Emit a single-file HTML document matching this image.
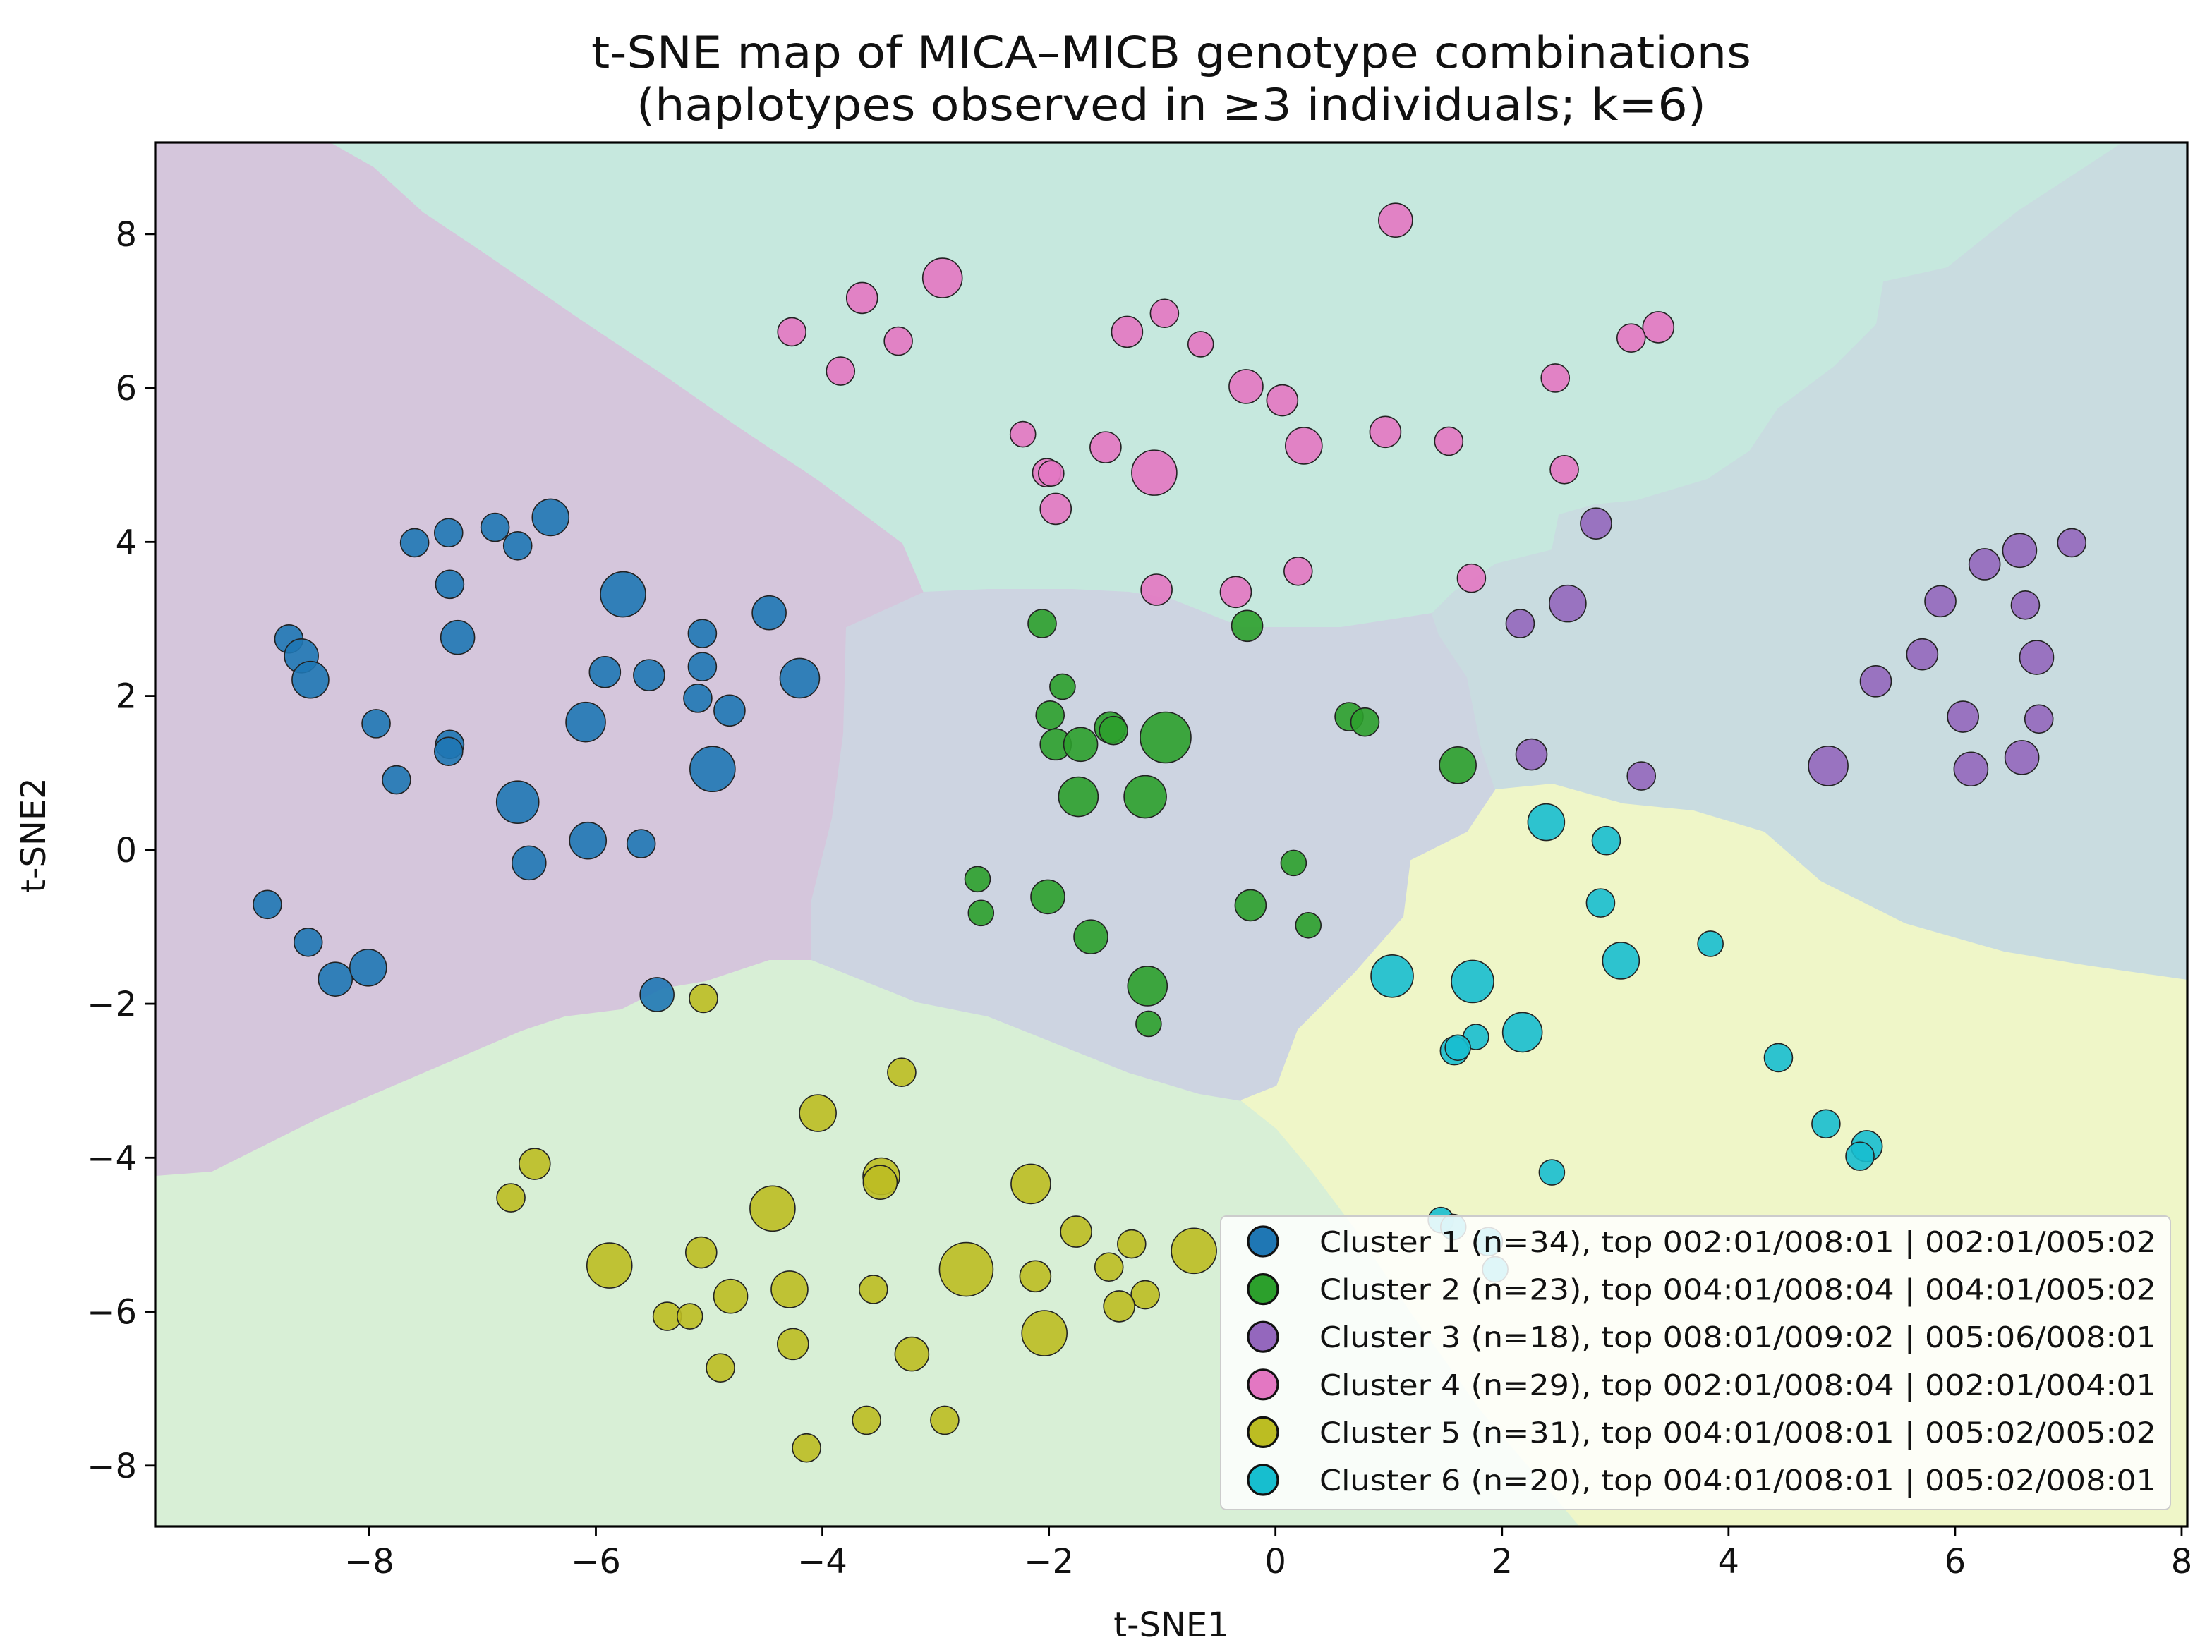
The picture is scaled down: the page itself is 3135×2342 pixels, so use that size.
<!DOCTYPE html>
<html><head><meta charset="utf-8"><style>
html,body{margin:0;padding:0;background:#fff;}
svg{display:block;font-family:"DejaVu Sans","Liberation Sans",sans-serif;}
</style></head><body>
<svg id="chart" width="3135" height="2342" viewBox="0 0 1567.5 1171" xmlns="http://www.w3.org/2000/svg">
<rect width="1567.5" height="1171" fill="#fff"/>
<text x="830" y="48" font-size="31" text-anchor="middle" fill="#111" textLength="822" lengthAdjust="spacingAndGlyphs">t-SNE map of MICA–MICB genotype combinations</text>
<text x="830" y="85" font-size="31" text-anchor="middle" fill="#111" textLength="758" lengthAdjust="spacingAndGlyphs">(haplotypes observed in ≥3 individuals; k=6)</text>
<g id="regions"></g>
<g id="points"></g>
<rect x="110" y="101" width="1440" height="981" fill="none" stroke="#000" stroke-width="1.6"/>
<g id="axes"></g>
<text x="830" y="1160" font-size="24" text-anchor="middle" fill="#111">t-SNE1</text>
<text x="0" y="0" font-size="24" text-anchor="middle" fill="#111" transform="translate(32,592) rotate(-90)">t-SNE2</text>
<g id="legend"></g>
</svg>
<script>
const NS="http://www.w3.org/2000/svg";
const xTicks=[-8,-6,-4,-2,0,2,4,6,8];
const yTicks=[8,6,4,2,0,-2,-4,-6,-8];
const clusterLabels=["Cluster 1 (n=34), top 002:01/008:01 | 002:01/005:02","Cluster 2 (n=23), top 004:01/008:04 | 004:01/005:02","Cluster 3 (n=18), top 008:01/009:02 | 005:06/008:01","Cluster 4 (n=29), top 002:01/008:04 | 002:01/004:01","Cluster 5 (n=31), top 004:01/008:01 | 005:02/005:02","Cluster 6 (n=20), top 004:01/008:01 | 005:02/008:01"];
const clusterColors=["#1f77b4","#2ca02c","#9467bd","#e377c2","#bcbd22","#17becf"];
const c1x=[-8.71,-8.60,-8.52,-7.60,-7.30,-6.89,-6.69,-6.40,-7.29,-5.76,-7.22,-4.47,-5.06,-5.92,-5.53,-5.06,-4.20,-5.10,-4.82,-7.94,-6.09,-7.29,-7.30,-7.76,-4.97,-6.69,-6.07,-5.60,-6.59,-8.90,-8.54,-8.30,-8.01,-5.46];
const c1y=[2.74,2.52,2.21,3.99,4.12,4.19,3.95,4.32,3.45,3.32,2.76,3.08,2.81,2.31,2.27,2.38,2.23,1.97,1.81,1.64,1.66,1.37,1.28,0.91,1.05,0.62,0.12,0.08,-0.17,-0.71,-1.20,-1.68,-1.53,-1.88];
const c1s=[10,12,13,10,10,10,10,13,10,16,12,12,10,11,11,10,14,10,11,10,14,10,10,10,16,15,13,10,12,10,10,12,13,12];
const c2x=[-2.06,-0.25,-1.88,-1.99,-1.94,-1.72,-1.46,-1.43,-0.97,0.65,0.79,-1.74,-1.15,1.61,-2.63,-2.60,0.16,-2.01,-0.22,0.29,-1.63,-1.13,-1.12];
const c2y=[2.94,2.91,2.12,1.75,1.37,1.37,1.59,1.55,1.46,1.73,1.66,0.69,0.69,1.10,-0.38,-0.82,-0.17,-0.61,-0.72,-0.98,-1.13,-1.77,-2.26];
const c2s=[10,11,9,10,11,12,11,10,18,10,10,14,15,13,9,9,9,12,11,9,12,14,9];
const c3x=[2.83,7.03,6.57,6.26,6.62,5.87,2.16,2.58,5.71,6.72,5.30,6.07,6.74,2.26,4.88,6.14,6.59,3.23];
const c3y=[4.24,3.99,3.89,3.71,3.18,3.23,2.94,3.20,2.54,2.50,2.19,1.73,1.70,1.24,1.09,1.05,1.20,0.96];
const c3s=[11,10,12,11,10,11,10,13,11,12,11,11,10,11,14,12,12,10];
const c4x=[1.06,-2.94,-3.65,-4.27,-3.33,-3.84,-1.31,-0.98,-0.66,3.38,3.14,2.47,-0.26,0.06,-2.23,-2.02,-1.98,-1.50,-1.07,0.25,0.97,1.53,2.55,-1.94,-1.05,-0.35,0.20,1.73];
const c4y=[8.18,7.43,7.17,6.73,6.61,6.22,6.73,6.97,6.57,6.79,6.65,6.13,6.02,5.84,5.40,4.90,4.89,5.23,4.90,5.25,5.43,5.31,4.94,4.43,3.38,3.35,3.62,3.53];
const c4s=[12,14,11,10,10,10,11,10,9,11,10,10,12,11,9,10,9,11,16,13,11,10,10,11,11,11,10,10];
const c5x=[-5.05,-3.30,-4.04,-6.54,-6.75,-3.48,-3.49,-4.44,-2.16,-5.88,-5.07,-2.73,-1.76,-1.27,-0.72,-2.12,-1.47,-4.81,-4.29,-3.55,-1.15,-1.38,-5.37,-5.17,-2.04,-4.26,-3.21,-4.90,-3.61,-2.92,-4.14];
const c5y=[-1.93,-2.89,-3.42,-4.08,-4.52,-4.24,-4.32,-4.66,-4.34,-5.40,-5.23,-5.45,-4.96,-5.12,-5.21,-5.54,-5.42,-5.80,-5.71,-5.71,-5.78,-5.93,-6.06,-6.06,-6.28,-6.42,-6.55,-6.73,-7.41,-7.41,-7.77];
const c5s=[10,10,13,11,10,13,12,16,14,16,11,19,11,10,16,11,10,12,13,10,10,11,10,9,16,11,12,10,10,10,10];
const c6x=[2.39,2.92,2.87,3.84,3.05,1.03,1.74,2.18,1.77,1.58,1.61,4.44,4.86,5.22,5.16,2.44,1.46,1.88,1.94,1.57];
const c6y=[0.36,0.12,-0.69,-1.22,-1.44,-1.64,-1.71,-2.37,-2.43,-2.61,-2.57,-2.70,-3.56,-3.85,-3.98,-4.19,-4.81,-5.09,-5.45,-4.90];
const c6s=[13,10,10,9,13,15,15,14,9,10,9,10,10,11,10,9,9,10,9,9];

const X0=110,X1=1550,Y0=101,Y1=1082,xmin=-9.89,xmax=8.05,ymin=-8.79,ymax=9.19;
function sx(v){return X0+(v-xmin)/(xmax-xmin)*(X1-X0);}
function sy(v){return Y1-(v-ymin)/(ymax-ymin)*(Y1-Y0);}
function mk(tag,attrs,parent){const e=document.createElementNS(NS,tag);for(const k in attrs)e.setAttribute(k,attrs[k]);parent.appendChild(e);return e;}

const reg=document.getElementById('regions');
const regionDefs=[
 ["region-cluster5","#d8efd6","110,101 1550,101 1550,1082 110,1082"],
 ["region-cluster1","#d5c6dc","110,101 235,101 265,118 300,150 345,180 410,225 470,265 520,300 580,340 640,385 655,420 600,445 598,520 590,580 575,640 575,680 545,680 500,695 470,700 440,715 400,720 370,730 300,760 230,790 190,810 150,830 110,833"],
 ["region-cluster4","#c6e8de","235,101 1505,101 1430,150 1380,190 1335,200 1330,230 1300,260 1260,290 1240,320 1210,340 1160,355 1130,358 1105,365 1100,390 1060,400 1030,420 1015,435 950,445 880,445 830,425 800,420 760,418 700,418 655,420 640,385 580,340 520,300 470,265 410,225 345,180 300,150 265,118"],
 ["region-cluster2","#cdd4e1","655,420 700,418 760,418 800,420 830,425 880,445 950,445 1015,435 1020,450 1040,480 1050,530 1060,560 1040,590 1000,610 995,650 960,690 920,730 905,770 880,780 850,775 800,760 750,740 700,720 650,710 600,690 575,680 575,640 590,580 598,520 600,445"],
 ["region-cluster3","#c9dce0","1505,101 1550,101 1550,695 1480,685 1420,675 1350,655 1290,625 1250,590 1200,575 1150,570 1100,556 1060,560 1050,530 1040,480 1020,450 1015,435 1030,420 1060,400 1100,390 1105,365 1130,358 1160,355 1210,340 1240,320 1260,290 1300,260 1330,230 1335,200 1380,190 1430,150"],
 ["region-cluster6","#eff6c8","1060,560 1100,556 1150,570 1200,575 1250,590 1290,625 1350,655 1420,675 1480,685 1550,695 1550,1082 1120,1082 1050,1000 1000,930 960,870 930,830 905,800 880,780 905,770 920,730 960,690 995,650 1000,610 1040,590"]
];
regionDefs.forEach(r=>{
 const p=mk('polygon',{points:r[2],fill:r[1],stroke:r[1],'stroke-width':1},reg);
 
 
});

const pts=document.getElementById('points');
const series=[[c1x,c1y,c1s],[c2x,c2y,c2s],[c3x,c3y,c3s],[c4x,c4y,c4s],[c5x,c5y,c5s],[c6x,c6y,c6s]];
series.forEach((s,ci)=>{
 const g=mk('g',{},pts);
 
 
 for(let i=0;i<s[0].length;i++){
  const c=mk('circle',{cx:sx(s[0][i]),cy:sy(s[1][i]),r:s[2][i],fill:clusterColors[ci],'fill-opacity':0.9,stroke:'#222','stroke-width':0.8},g);
  
  
 }
});

const ax=document.getElementById('axes');
xTicks.forEach(t=>{
 const x=sx(t);
 const l=mk('line',{x1:x,y1:Y1,x2:x,y2:Y1+7,stroke:'#000','stroke-width':1.4},ax);
 
 
 const tx=mk('text',{x:x,y:Y1+33,'font-size':24,'text-anchor':'middle',fill:'#111'},ax);
 tx.textContent=(t<0?'−':'')+Math.abs(t);
 
 
});
yTicks.forEach(t=>{
 const y=sy(t);
 const l=mk('line',{x1:X0-7,y1:y,x2:X0,y2:y,stroke:'#000','stroke-width':1.4},ax);
 
 
 const tx=mk('text',{x:X0-13,y:y+8.5,'font-size':24,'text-anchor':'end',fill:'#111'},ax);
 tx.textContent=(t<0?'−':'')+Math.abs(t);
 
 
});

const lg=document.getElementById('legend');
const box=mk('rect',{x:865,y:862,width:673,height:208,rx:4,fill:'#fff','fill-opacity':0.85,stroke:'#ccc','stroke-width':1},lg);


clusterLabels.forEach((lab,i)=>{
 const y=880+i*33.8;
 const c=mk('circle',{cx:895,cy:y,r:10.5,fill:clusterColors[i],stroke:'#111','stroke-width':1.6},lg);
 
 
 const t=mk('text',{x:935,y:y+7.5,'font-size':20.5,fill:'#111',textLength:593,lengthAdjust:'spacingAndGlyphs'},lg);
 t.textContent=lab;
 
 
});
</script>
</body></html>
